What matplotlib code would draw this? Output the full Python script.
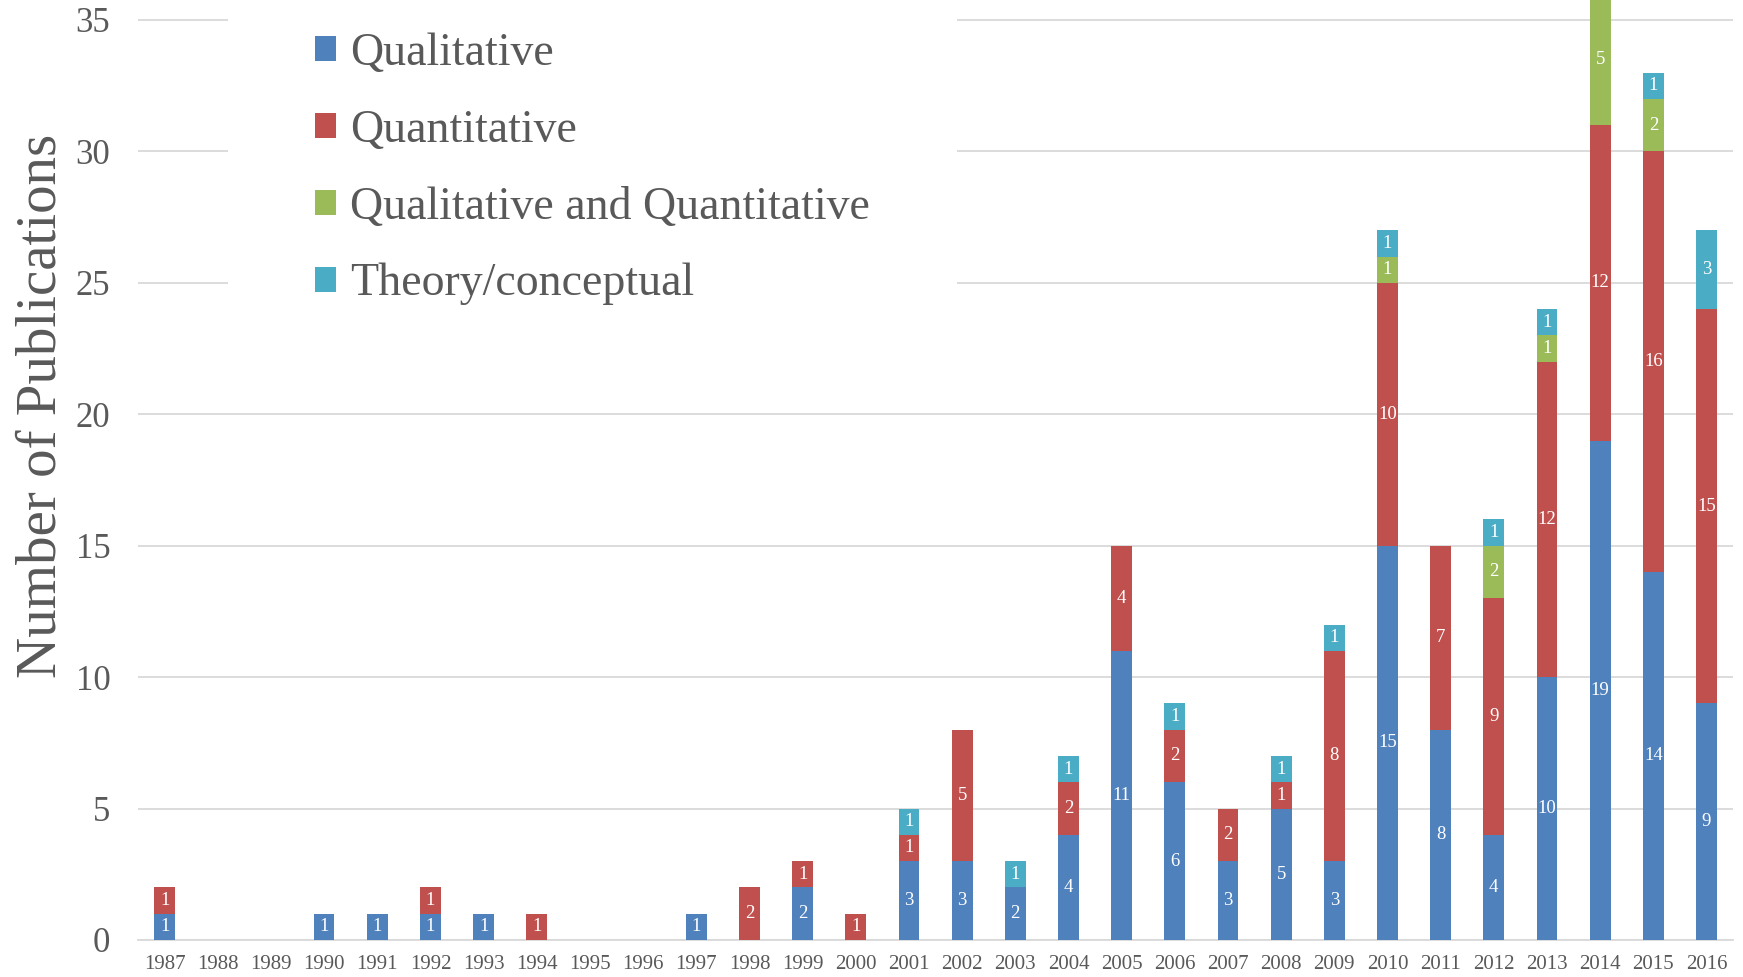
import matplotlib
matplotlib.use('Agg')
import matplotlib.pyplot as plt
import numpy as np
from matplotlib.patches import Patch

plt.rcParams['font.family'] = ['Liberation Serif', 'DejaVu Serif']

years = [str(y) for y in range(1987, 2017)]
qualitative = [1, 0, 0, 1, 1, 1, 1, 0, 0, 0, 1, 0, 2, 0, 3, 3, 2, 4, 11, 6,
               3, 5, 3, 15, 8, 4, 10, 19, 14, 9]
quantitative = [1, 0, 0, 0, 0, 1, 0, 1, 0, 0, 0, 2, 1, 1, 1, 5, 0, 2, 4, 2,
                2, 1, 8, 10, 7, 9, 12, 12, 16, 15]
both = [0, 0, 0, 0, 0, 0, 0, 0, 0, 0, 0, 0, 0, 0, 0, 0, 0, 0, 0, 0,
        0, 0, 0, 1, 0, 2, 1, 5, 2, 0]
theory = [0, 0, 0, 0, 0, 0, 0, 0, 0, 0, 0, 0, 0, 0, 1, 0, 1, 1, 0, 1,
          0, 1, 1, 1, 0, 1, 1, 0, 1, 3]

series = [('Qualitative', qualitative, '#4F81BD'),
          ('Quantitative', quantitative, '#C0504D'),
          ('Qualitative and Quantitative', both, '#9BBB59'),
          ('Theory/conceptual', theory, '#4BACC6')]

fig = plt.figure(figsize=(17.43, 9.77), dpi=100)
ax = fig.add_axes([0.0792, 0.0379, 0.9151, 0.9621])

x = np.arange(len(years))
bottom = np.zeros(len(years))
for name, vals, col in series:
    vals = np.array(vals)
    ax.bar(x, vals, 0.39, bottom=bottom, color=col, label=name, zorder=3)
    for i, v in enumerate(vals):
        if v > 0:
            ax.text(x[i], bottom[i] + v / 2, str(v), ha='center', va='center',
                    color='white', fontsize=13.5, zorder=4)
    bottom += vals

ax.set_xlim(-0.5, len(years) - 0.5)
ax.set_ylim(0, 35.76)
ax.set_yticks(range(0, 36, 5))
ax.set_xticks(x)
ax.set_xticklabels(years)
ax.grid(axis='y', color='#D9D9D9', linewidth=1.3, zorder=0)
for s in ['top', 'right', 'left']:
    ax.spines[s].set_visible(False)
ax.spines['bottom'].set_color('#D9D9D9')
ax.spines['bottom'].set_linewidth(1.3)
ax.tick_params(axis='both', length=0, colors='#595959')
ax.tick_params(axis='y', labelsize=25, pad=20)
ax.tick_params(axis='x', labelsize=15, pad=11)
ax.set_ylabel('Number of Publications', fontsize=41, color='#595959')
ax.yaxis.set_label_coords(-0.0445, 0.568)

handles = [Patch(facecolor=c, edgecolor='none') for _, _, c in series]
leg = ax.legend(handles, [n for n, _, _ in series], loc='upper left',
                bbox_to_anchor=(228 / 1743, 1.056), bbox_transform=fig.transFigure,
                fontsize=33, frameon=True, facecolor='white', edgecolor='none',
                framealpha=1, fancybox=False, handlelength=0.46, handleheight=0.46,
                handletextpad=0.3, labelspacing=0.75, borderpad=1.9,
                borderaxespad=0)
leg.set_zorder(5)
for t in leg.get_texts():
    t.set_color('#595959')

fig.savefig('out.png', dpi=100)
